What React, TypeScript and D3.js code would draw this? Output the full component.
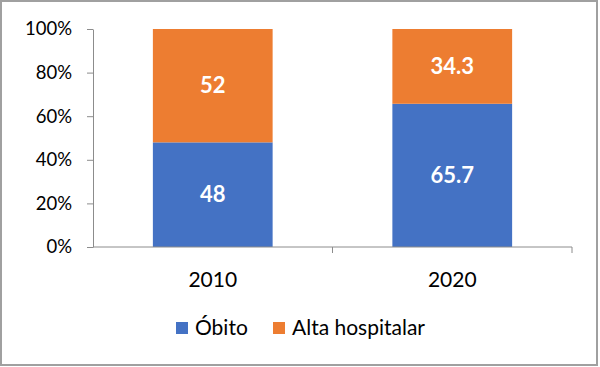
import { useRef, useEffect } from 'react';
import { select, scaleBand, scaleLinear, axisLeft, axisBottom, format } from 'd3';

const years = ['2010', '2020'];
const obito = [48, 65.7];
const altaHospitalar = [52, 34.3];
const seriesNames = ['Óbito', 'Alta hospitalar'];
const seriesColors = ['#4472C4', '#ED7D31'];
const yTicks = [0, 20, 40, 60, 80, 100];

const W = 600;
const H = 367;
const FONT = 'Lato, "Open Sans", sans-serif';

const App = () => {
  const svgRef = useRef<SVGSVGElement | null>(null);

  useEffect(() => {
    const svg = select(svgRef.current);
    svg.selectAll('*').remove();

    // frame around the whole chart
    svg
      .append('rect')
      .attr('x', 1)
      .attr('y', 1)
      .attr('width', 596)
      .attr('height', 364)
      .attr('fill', '#fff')
      .attr('stroke', '#a0a0a0')
      .attr('stroke-width', 2);

    const x = scaleBand()
      .domain(years)
      .range([93, 572])
      .paddingInner(0.5)
      .paddingOuter(0.25);
    const y = scaleLinear().domain([0, 100]).range([247, 29]);

    const rows = years.map((yr, i) => ({
      year: yr,
      segs: [
        { v: obito[i], y0: 0, y1: obito[i], c: seriesColors[0] },
        { v: altaHospitalar[i], y0: obito[i], y1: obito[i] + altaHospitalar[i], c: seriesColors[1] },
      ],
    }));

    // stacked bars
    const g = svg
      .selectAll('.col')
      .data(rows)
      .join('g')
      .attr('class', 'col')
      .attr('transform', (d) => `translate(${x(d.year)},0)`);

    g.selectAll('rect')
      .data((d) => d.segs)
      .join('rect')
      .attr('x', 0)
      .attr('width', x.bandwidth())
      .attr('y', (d) => y(d.y1))
      .attr('height', (d) => y(d.y0) - y(d.y1))
      .attr('fill', (d) => d.c);

    g.selectAll('text')
      .data((d) => d.segs)
      .join('text')
      .attr('x', x.bandwidth() / 2)
      .attr('y', (d) => (y(d.y0) + y(d.y1)) / 2)
      .attr('dy', '0.35em')
      .attr('text-anchor', 'middle')
      .attr('fill', '#fff')
      .attr('font-family', FONT)
      .attr('font-weight', 'bold')
      .attr('font-size', 22)
      .text((d) => String(d.v));

    // y axis
    const ya = svg
      .append('g')
      .attr('transform', 'translate(93,0)')
      .call(axisLeft(y).tickValues(yTicks).tickSize(6).tickSizeOuter(0).tickPadding(15).tickFormat((d) => format('d')(d as number) + '%'));
    ya.select('.domain').attr('stroke', '#8c8c8c');
    ya.selectAll('.tick line').attr('stroke', '#8c8c8c');
    ya.selectAll('.tick text')
      .attr('font-family', FONT)
      .attr('font-size', 18.5)
      .attr('fill', '#000');

    // x axis with ticks between categories
    const xa = svg
      .append('g')
      .attr('transform', 'translate(0,247)')
      .call(axisBottom(x).tickSize(0).tickPadding(25));
    xa.select('.domain').attr('stroke', '#8c8c8c').attr('d', 'M93,0H572V6');
    xa.selectAll('.tick text')
      .attr('font-family', FONT)
      .attr('font-size', 21)
      .attr('fill', '#000');
    xa.append('line')
      .attr('x1', (x(years[0])! + x(years[1])! + x.bandwidth()) / 2)
      .attr('x2', (x(years[0])! + x(years[1])! + x.bandwidth()) / 2)
      .attr('y1', 0)
      .attr('y2', 6)
      .attr('stroke', '#8c8c8c');

    // legend
    const legendX = [176, 273];
    const lg = svg
      .selectAll('.legend')
      .data(seriesNames)
      .join('g')
      .attr('class', 'legend')
      .attr('transform', (_d, i) => `translate(${legendX[i]},322)`);
    lg.append('rect')
      .attr('width', 12)
      .attr('height', 12)
      .attr('fill', (_d, i) => seriesColors[i]);
    lg.append('text')
      .attr('x', 19)
      .attr('y', 6)
      .attr('dy', '0.35em')
      .attr('font-family', FONT)
      .attr('font-size', 21)
      .attr('fill', '#000')
      .text((d) => d);
  }, []);

  return (
    <svg
      ref={svgRef}
      width={W}
      height={H}
      style={{ position: 'absolute', left: 0, top: 0 }}
    ></svg>
  );
};

export default App;
